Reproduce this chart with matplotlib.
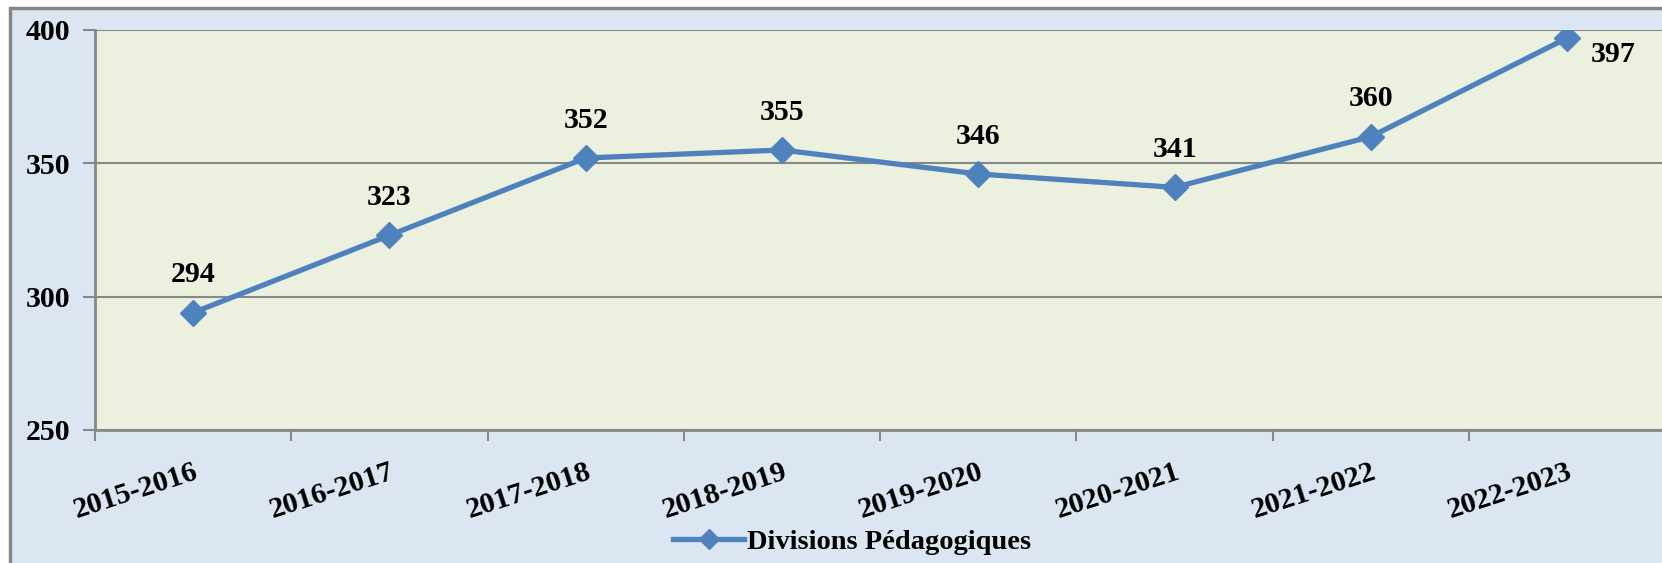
import numpy as np
import matplotlib.pyplot as plt
from matplotlib.patches import Rectangle

years = ["2015-2016", "2016-2017", "2017-2018", "2018-2019",
         "2019-2020", "2020-2021", "2021-2022", "2022-2023"]
divisions = [294, 323, 352, 355, 346, 341, 360, 397]
y_ticks = [250, 300, 350, 400]

LINE = "#4F81BD"
PANEL = "#DCE6F2"
PLOT_BG = "#EBF1DE"
GRAY = "#878787"
FS = 21.5

plt.rcParams["font.family"] = ["Liberation Serif", "DejaVu Serif"]
plt.rcParams["font.weight"] = "bold"

W, H = 1662, 563
fig = plt.figure(figsize=(W / 100, H / 100), dpi=100)
fig.patch.set_facecolor("white")

# outer chart panel with grey frame (cropped at the right)
fig.patches.append(Rectangle((10 / W, -0.05), 1.2, 1 - 8 / H + 0.05,
                             transform=fig.transFigure, facecolor=PANEL,
                             edgecolor=GRAY, lw=2.5, zorder=-5))

ax = fig.add_axes([95 / W, (H - 430) / H, 1 - 95 / W + 0.002, 400 / H])
ax.set_facecolor(PLOT_BG)

x = np.arange(len(years))
ax.plot(x, divisions, color=LINE, lw=3.8, marker="D", ms=13,
        markeredgecolor=LINE, zorder=3, label="Divisions Pédagogiques")

for i, v in enumerate(divisions):
    if i == len(divisions) - 1:
        ax.annotate(str(v), (i, v), xytext=(46, -17), textcoords="offset pixels",
                    ha="center", va="center", fontsize=FS, fontweight="bold")
    else:
        ax.annotate(str(v), (i, v), xytext=(0, 38), textcoords="offset pixels",
                    ha="center", va="center", fontsize=FS, fontweight="bold")

ax.set_xlim(-0.5, 7.5)
ax.set_ylim(250, 400)
ax.set_yticks(y_ticks)
ax.yaxis.grid(True, color=GRAY, lw=1.5)
ax.set_axisbelow(True)

ax.set_xticks(x)
ax.set_xticklabels(years, rotation=18, ha="right", rotation_mode="anchor")
ax.set_xticks(np.arange(-0.5, 8, 1), minor=True)
ax.tick_params(axis="x", which="major", length=0, pad=20, labelsize=FS)
ax.tick_params(axis="x", which="minor", length=8, width=1.5, color=GRAY, direction="out")
ax.tick_params(axis="y", length=9, width=1.5, color=GRAY, pad=9, labelsize=FS)
for lab in ax.get_xticklabels() + ax.get_yticklabels():
    lab.set_fontweight("bold")

for side in ["top", "right"]:
    ax.spines[side].set_visible(False)
for side in ["left", "bottom"]:
    ax.spines[side].set_color(GRAY)
    ax.spines[side].set_linewidth(2)

fig.legend(loc="center", bbox_to_anchor=(852 / W, 1 - 542 / H), frameon=False,
           prop={"size": 20.5, "weight": "bold"}, handlelength=2.5,
           handletextpad=0.1, markerscale=0.8)

fig.savefig("out.png", dpi=100)
